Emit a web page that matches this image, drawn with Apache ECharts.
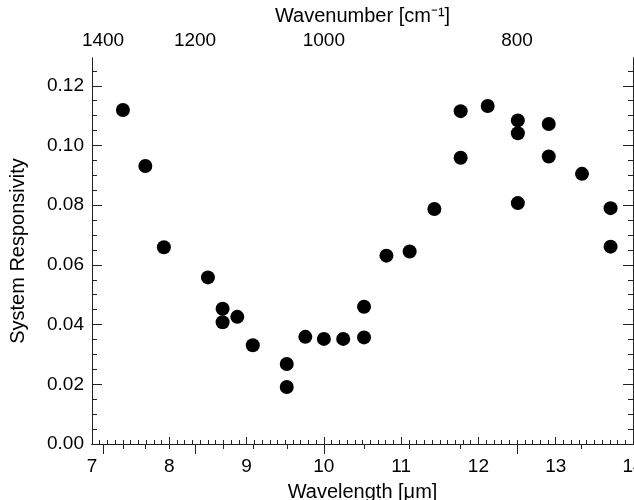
<!DOCTYPE html>
<html>
<head>
<meta charset="utf-8">
<script src="https://cdn.jsdelivr.net/npm/echarts@6/dist/echarts.min.js"></script>
<style>html,body{margin:0;padding:0;background:#fff}#c{width:634px;height:500px}</style>
</head>
<body>
<div id="c"></div>
<script>
const wavelength = [7.40, 7.69, 7.93, 8.50, 8.69, 8.69, 8.88, 9.08, 9.52, 9.52, 9.76, 10.00, 10.25, 10.52, 10.52, 10.81, 11.11, 11.43, 11.77, 11.77, 12.12, 12.51, 12.51, 12.51, 12.91, 12.91, 13.34, 13.71, 13.71];
const responsivity = [0.1119, 0.0931, 0.0659, 0.0558, 0.0453, 0.0408, 0.0426, 0.0331, 0.0268, 0.0191, 0.0359, 0.0352, 0.0352, 0.0357, 0.0460, 0.0631, 0.0645, 0.0787, 0.1115, 0.0959, 0.1132, 0.1084, 0.1041, 0.0807, 0.1072, 0.0963, 0.0905, 0.0790, 0.0661];
const wavenumberMajor = [1400, 1200, 1000, 800];
const wavenumberMinor = [1400, 1350, 1300, 1250, 1200, 1150, 1100, 1050, 1000, 950, 900, 850, 800, 750];
const yMajorTicks = [0, 0.02, 0.04, 0.06, 0.08, 0.10, 0.12];
const yMinorTicks = [0.005, 0.01, 0.015, 0.025, 0.03, 0.035, 0.045, 0.05, 0.055, 0.065, 0.07, 0.075, 0.085, 0.09, 0.095, 0.105, 0.11, 0.115, 0.125];

const FONT = 'Liberation Sans, Arial, Helvetica, sans-serif';
const LINE = '#222';
const xMin = 7, xMax = 14, yMin = 0, yMax = 0.1293;
const toWl = wn => 10000 / wn;

const chart = echarts.init(document.getElementById('c'), null, {renderer: 'canvas'});
const baseLine = {show: true, lineStyle: {color: LINE, width: 1}};
const option = {
  animation: false,
  backgroundColor: '#fff',
  grid: {left: 92, right: 1, top: 58, bottom: 56, containLabel: false, outerBoundsMode: 'none'},
  xAxis: [
    {
      type: 'value', position: 'bottom', min: xMin, max: xMax, interval: 1,
      axisLine: baseLine,
      axisTick: {inside: true, length: 7, lineStyle: {color: LINE}},
      minorTick: {show: true, splitNumber: 10, length: 4, lineStyle: {color: LINE}},
      splitLine: {show: false},
      axisLabel: {fontSize: 19, color: '#000', fontFamily: FONT, margin: 13, showMaxLabel: true, showMinLabel: true, hideOverlap: false},
      name: 'Wavelength [μm]', nameLocation: 'middle', nameGap: 38,
      nameTextStyle: {fontSize: 20, color: '#000', fontFamily: FONT}
    },
    {
      type: 'value', position: 'top', min: xMin, max: xMax,
      axisLine: baseLine,
      axisTick: {inside: true, length: 10, lineStyle: {color: LINE}, customValues: wavenumberMajor.map(toWl)},
      axisLabel: {fontSize: 19, color: '#000', fontFamily: FONT, margin: 8,
        customValues: wavenumberMajor.map(toWl), formatter: v => String(Math.round(10000 / v))},
      splitLine: {show: false},
      name: 'Wavenumber [cm⁻¹]', nameLocation: 'middle', nameGap: 28,
      nameTextStyle: {fontSize: 20, color: '#000', fontFamily: FONT}
    },
    {
      type: 'value', position: 'top', min: xMin, max: xMax,
      axisLine: baseLine,
      axisTick: {inside: true, length: 5, lineStyle: {color: LINE}, customValues: wavenumberMinor.map(toWl)},
      axisLabel: {show: false},
      splitLine: {show: false}
    }
  ],
  yAxis: [
    {
      type: 'value', position: 'left', min: yMin, max: yMax,
      axisLine: baseLine,
      axisTick: {inside: true, length: 10, lineStyle: {color: LINE}, customValues: yMajorTicks},
      axisLabel: {fontSize: 19, color: '#000', fontFamily: FONT, margin: 8,
        customValues: yMajorTicks, formatter: v => v.toFixed(2)},
      splitLine: {show: false},
      name: 'System Responsivity', nameLocation: 'middle', nameGap: 64, nameRotate: 90,
      nameTextStyle: {fontSize: 20, color: '#000', fontFamily: FONT}
    },
    {
      type: 'value', position: 'left', min: yMin, max: yMax,
      axisLine: baseLine,
      axisTick: {inside: true, length: 5, lineStyle: {color: LINE}, customValues: yMinorTicks},
      axisLabel: {show: false}, splitLine: {show: false}
    },
    {
      type: 'value', position: 'right', min: yMin, max: yMax,
      axisLine: baseLine,
      axisTick: {inside: true, length: 10, lineStyle: {color: LINE}, customValues: yMajorTicks},
      axisLabel: {show: false}, splitLine: {show: false}
    },
    {
      type: 'value', position: 'right', min: yMin, max: yMax,
      axisLine: baseLine,
      axisTick: {inside: true, length: 5, lineStyle: {color: LINE}, customValues: yMinorTicks},
      axisLabel: {show: false}, splitLine: {show: false}
    }
  ],
  series: [{
    type: 'scatter',
    xAxisIndex: 0, yAxisIndex: 0,
    symbol: 'circle', symbolSize: 14,
    itemStyle: {color: '#000', opacity: 1},
    data: wavelength.map((w, i) => [w, responsivity[i]])
  }]
};
chart.setOption(option);
</script>
</body>
</html>
